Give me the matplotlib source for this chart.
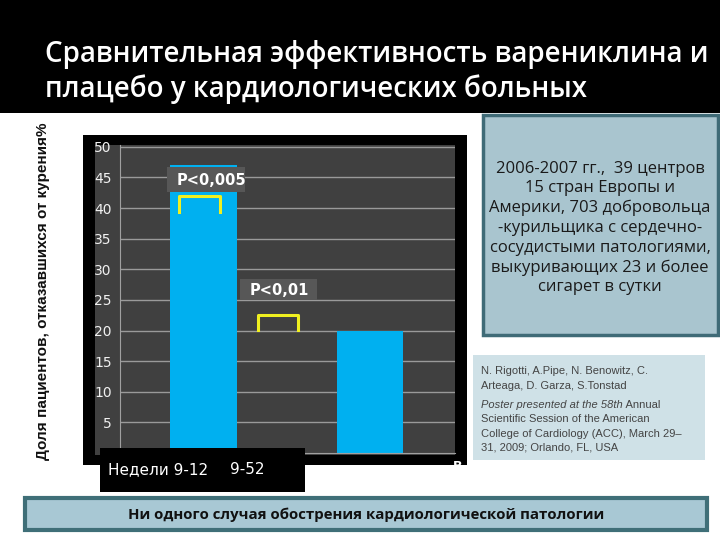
import matplotlib.pyplot as plt
from matplotlib.patches import Rectangle
from matplotlib.lines import Line2D
from matplotlib.text import Annotation

# data
weeks = ["Недели 9-12", "9-52"]
quit_rate = [47, 20]
p_labels = ["P<0,005", "P<0,01"]
yticks = [5, 10, 15, 20, 25, 30, 35, 40, 45, 50]

title = "Сравнительная эффективность варениклина и\nплацебо у кардиологических больных"
ylabel = "Доля пациентов, отказавшихся от курения%"
info = ("2006-2007 гг.,  39 центров\n15 стран Европы и\nАмерики, 703 добровольца\n"
        "-курильщика с сердечно-\nсосудистыми патологиями,\nвыкуривающих 23 и более\nсигарет в сутки")
authors = ["N. Rigotti, A.Pipe, N. Benowitz, C.", "Arteaga, D. Garza, S.Tonstad"]
poster_it = "Poster presented at the 58th"
poster = ["Scientific Session of the American", "College of Cardiology (ACC), March 29\u2013",
          "31, 2009; Orlando, FL, USA"]
footer = "Ни одного случая обострения кардиологической патологии"

W, H = 720, 540
fig = plt.figure(figsize=(7.2, 5.4), dpi=100)
fig.patch.set_facecolor("white")


def fx(x):
    return x / W


def fy(y):
    return 1 - y / H


def box(x0, y0, x1, y1, fc, ec="none", lw=0, z=0):
    fig.add_artist(Rectangle((fx(x0), fy(y1)), fx(x1) - fx(x0), fy(y0) - fy(y1),
                             transform=fig.transFigure, facecolor=fc, edgecolor=ec,
                             linewidth=lw, zorder=z))


# title banner
box(0, 0, W, 113, "black")
fig.text(fx(45), fy(72), title, color="white", fontsize=20, family="Open Sans",
         weight="semibold", va="center", ha="left", linespacing=1.25)

# chart frame
box(83, 135, 467, 465, "black")
box(95, 145, 455, 455, "#404040", z=0.5)

ax = fig.add_axes([fx(120), fy(453), fx(455) - fx(120), fy(145) - fy(453)])
ax.set_zorder(1)
ax.set_facecolor("#404040")
ax.bar(range(len(quit_rate)), quit_rate, width=0.4, color="#00b0f0", zorder=2)
ax.set_xlim(-0.5, 1.51)
ax.set_ylim(0, 50.3)
ax.set_yticks(yticks)
ax.set_yticklabels([str(v) for v in yticks])
ax.yaxis.grid(True, color="#9a9a9a", lw=1)
ax.set_axisbelow(True)
ax.set_xticks([])
ax.tick_params(axis="y", length=0, pad=6, labelsize=10, labelcolor="#f0f0f0")
for s in ["top", "right"]:
    ax.spines[s].set_visible(False)
ax.spines["left"].set_color("#a0a0a0")
ax.spines["bottom"].set_color("#a0a0a0")

# p-value boxes and brackets
pboxes = [(167, 167, 245, 192), (240, 279, 317, 300)]
brackets = [(179, 196, 220, 212), (258, 315, 298, 330)]
for lab, (x0, y0, x1, y1) in zip(p_labels, pboxes):
    box(x0, y0, x1, y1, "#575757", z=3)
    fig.text(fx(x0 + 10), fy((y0 + y1) / 2 + 1), lab, color="white", fontsize=10.5,
             weight="bold", va="center", zorder=4)
for (x0, y0, x1, y1) in brackets:
    fig.add_artist(Line2D([fx(x0), fx(x0), fx(x1), fx(x1)], [fy(y1), fy(y0), fy(y0), fy(y1)],
                          transform=fig.transFigure, color="#f0f020", lw=2.2, zorder=4,
                          solid_joinstyle="round"))

# category labels
box(100, 448, 305, 492, "black", z=3)
fig.text(fx(108), fy(470), weeks[0], color="white", fontsize=11, va="center", zorder=4)
fig.text(fx(230), fy(470), weeks[1], color="white", fontsize=11, va="center", zorder=4)
fig.text(fx(453), fy(467), "В", color="white", fontsize=9, weight="bold", va="center", zorder=4)

# y label
fig.text(fx(43), fy(291), ylabel, rotation=90, fontsize=11, weight="bold",
         family="Liberation Sans", va="center", ha="center", color="#111111")

# study info box
box(483, 115, 718, 335, "#a9c5cf", ec="#3f6b77", lw=2.5, z=2)
fig.text(fx(600), fy(228), info, ha="center", va="center", fontsize=12,
         family="Open Sans", color="#1a1a1a", linespacing=1.3, zorder=3)

# citation box
box(473, 355, 705, 460, "#cfe1e7", z=2)
for t, y in zip(authors, [371, 386]):
    fig.text(fx(481), fy(y), t, fontsize=8, family="Liberation Sans", color="#444444",
             va="center", zorder=3)
pt = fig.text(fx(481), fy(405), poster_it, fontsize=8, family="Liberation Sans",
              style="italic", color="#444444", va="center", zorder=3)
fig.add_artist(Annotation(" Annual", xy=(1, 0.5), xycoords=pt, va="center", ha="left",
                          fontsize=8, family="Liberation Sans", color="#444444", zorder=3))
for t, y in zip(poster, [419, 434, 448]):
    fig.text(fx(481), fy(y), t, fontsize=8, family="Liberation Sans", color="#444444",
             va="center", zorder=3)

# footer banner
box(25, 498, 707, 530, "#a8c8d4", ec="#3f6f78", lw=3, z=2)
fig.text(fx(366), fy(515), footer, ha="center", va="center", fontsize=10.8,
         weight="bold", family="Open Sans", color="#111111", zorder=3)

fig.savefig("out.png", dpi=100)
